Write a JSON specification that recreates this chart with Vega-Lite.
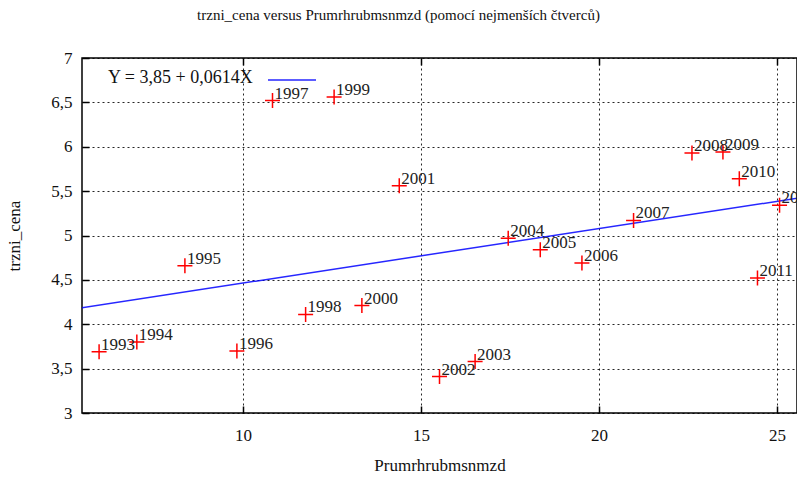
{
  "$schema": "https://vega.github.io/schema/vega-lite/v6.json",
  "width": 715,
  "height": 355,
  "autosize": "none",
  "padding": {"left": 82, "top": 58, "right": 0, "bottom": 67},
  "background": "white",
  "title": {
    "text": "trzni_cena versus Prumrhrubmsnmzd (pomocí nejmenších čtverců)",
    "font": "Liberation Serif",
    "fontSize": 15,
    "fontWeight": "normal",
    "color": "#111",
    "offset": 26,
    "dx": -41
  },
  "config": {
    "view": {"stroke": "#000", "strokeWidth": 1.5},
    "axis": {
      "domain": false,
      "grid": true,
      "gridColor": "#000",
      "gridDash": [2, 3],
      "gridOpacity": 0.85,
      "gridWidth": 1,
      "tickColor": "#000",
      "tickWidth": 1.5,
      "tickSize": -7,
      "labelFont": "Liberation Serif",
      "labelFontSize": 17,
      "labelColor": "#111",
      "titleFont": "Liberation Serif",
      "titleFontSize": 17,
      "titleFontWeight": "normal",
      "titleColor": "#111"
    }
  },
  "datasets": {
    "pts": [
      {"rok": "1993", "x": 5.96, "y": 3.69},
      {"rok": "1994", "x": 7.02, "y": 3.8},
      {"rok": "1995", "x": 8.37, "y": 4.66},
      {"rok": "1996", "x": 9.83, "y": 3.7},
      {"rok": "1997", "x": 10.83, "y": 6.52},
      {"rok": "1998", "x": 11.76, "y": 4.11},
      {"rok": "1999", "x": 12.56, "y": 6.56},
      {"rok": "2000", "x": 13.34, "y": 4.21},
      {"rok": "2001", "x": 14.39, "y": 5.56},
      {"rok": "2002", "x": 15.52, "y": 3.41},
      {"rok": "2003", "x": 16.52, "y": 3.58},
      {"rok": "2004", "x": 17.45, "y": 4.97},
      {"rok": "2005", "x": 18.35, "y": 4.84},
      {"rok": "2006", "x": 19.52, "y": 4.69},
      {"rok": "2007", "x": 20.97, "y": 5.17},
      {"rok": "2008", "x": 22.61, "y": 5.93},
      {"rok": "2009", "x": 23.48, "y": 5.94},
      {"rok": "2010", "x": 23.94, "y": 5.64},
      {"rok": "2011", "x": 24.45, "y": 4.52},
      {"rok": "2012", "x": 25.07, "y": 5.34}
    ],
    "fit": [
      {"x": 5.0, "y": 4.157, "s": "fit"},
      {"x": 26.0, "y": 5.446, "s": "fit"}
    ]
  },
  "resolve": {"axis": {"x": "independent"}},
  "layer": [
    {
      "data": {"name": "fit"},
      "mark": {"type": "line", "clip": true, "strokeWidth": 1.5, "opacity": 0.85},
      "encoding": {
        "x": {
          "field": "x", "type": "quantitative",
          "scale": {"domain": [5.48, 25.56], "nice": false, "zero": false},
          "axis": {"title": "Prumrhrubmsnmzd", "values": [10, 15, 20, 25], "labelPadding": 21, "titlePadding": 14}
        },
        "y": {
          "field": "y", "type": "quantitative",
          "scale": {"domain": [3, 7], "nice": false, "zero": false},
          "axis": {
            "title": "trzni_cena",
            "values": [3, 3.5, 4, 4.5, 5, 5.5, 6, 6.5, 7],
            "labelExpr": "replace(format(datum.value, ''), '.', ',')",
            "labelPadding": 17,
            "titlePadding": 27
          }
        },
        "color": {
          "field": "s", "type": "nominal",
          "scale": {"range": ["#0000ff"]},
          "legend": {
            "title": "Y = 3,85 + 0,0614X",
            "titleOrient": "left",
            "titleFont": "Liberation Serif",
            "titleFontSize": 18,
            "titleFontWeight": "normal",
            "titleColor": "#111",
            "titlePadding": 29,
            "titleBaseline": "middle",
            "labelExpr": "''",
            "symbolType": "M-3,0L3,0",
            "symbolSize": 256,
            "symbolStrokeWidth": 1.5,
            "orient": "none",
            "legendX": 26,
            "legendY": 13
          }
        }
      }
    },
    {
      "data": {"name": "pts"},
      "mark": {"type": "point", "shape": "M-1,0L1,0M0,-1L0,1", "size": 225, "filled": false, "stroke": "#ff0000", "strokeWidth": 1.5, "opacity": 1},
      "encoding": {
        "x": {
          "field": "x", "type": "quantitative",
          "axis": {"orient": "top", "values": [10, 15, 20, 25], "labels": false, "grid": false, "title": null}
        },
        "y": {"field": "y", "type": "quantitative"}
      }
    },
    {
      "data": {"name": "pts"},
      "mark": {"type": "text", "align": "left", "baseline": "alphabetic", "dx": 2, "dy": -2, "font": "Liberation Serif", "fontSize": 17, "color": "#222"},
      "encoding": {
        "x": {"field": "x", "type": "quantitative", "axis": null},
        "y": {"field": "y", "type": "quantitative"},
        "text": {"field": "rok"}
      }
    }
  ]
}
